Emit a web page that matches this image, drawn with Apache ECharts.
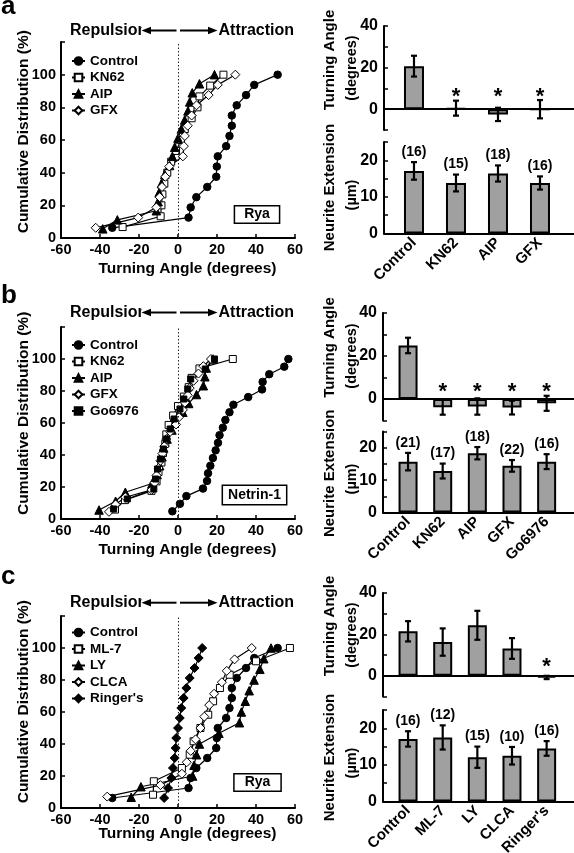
<!DOCTYPE html>
<html><head><meta charset="utf-8">
<script src="https://cdn.jsdelivr.net/npm/echarts@6/dist/echarts.min.js"></script>
<style>html,body{margin:0;padding:0;background:#fff}#c{width:574px;height:853px}</style>
</head><body><div id="c"></div>
<script>
// ================= DATA =================
// cumulative distribution steps (%) by sample size
const cum10 = [7.1,14.3,21.4,28.6,35.7,42.9,50,57.1,64.3,71.4,78.6,85.7,92.9,100];
const cum12 = [8.3,16.7,25,33.3,41.7,50,58.3,66.7,75,83.3,91.7,100];
const cum15 = [6.7,13.3,20,26.7,33.3,40,46.7,53.3,60,66.7,73.3,80,86.7,93.3,100];
const cum16 = [6.25,12.5,18.75,25,31.25,37.5,43.75,50,56.25,62.5,68.75,75,81.25,87.5,93.75,100];
const cum17 = [5.9,11.8,17.6,23.5,29.4,35.3,41.2,47.1,52.9,58.8,64.7,70.6,76.5,82.4,88.2,94.1,100];
const cum18 = [5.6,11.1,16.7,22.2,27.8,33.3,38.9,44.4,50,55.6,61.1,66.7,72.2,77.8,83.3,88.9,94.4,100];
const cum21 = [4.8,9.5,14.3,19,23.8,28.6,33.3,38.1,42.9,47.6,52.4,57.1,61.9,66.7,71.4,76.2,81,85.7,90.5,95.2,100];
const cum22 = [4.5,9.1,13.6,18.2,22.7,27.3,31.8,36.4,40.9,45.5,50,54.5,59.1,63.6,68.2,72.7,77.3,81.8,86.4,90.9,95.5,100];

// turning angles (degrees), sorted
const ryaControl = [-33.7,5.4,6.5,9.4,15.0,19.6,19.9,20.4,24.7,26.4,27.6,27.6,30.1,34.9,39.1,51.1];
const aKN62 = [-28.4,-8.9,-8.5,-8.0,-7.0,-5.5,-3.5,-1.0,1.5,3.5,7.0,10.0,11.0,16.5,23.3];
const aAIP  = [-38.6,-31.1,-11.1,-10.2,-9.7,-8.5,-6.8,-4.3,-2.9,-1.7,0,1.7,3.4,5.1,6.0,7.3,11.0,18.7];
const aGFX  = [-42.2,-20.4,-11.1,-9.4,-8.2,-6.5,-4.5,2.5,3.0,3.5,5.0,7.0,9.5,15.7,20.4,29.4];

const bControl = [-2.9,1.0,4.3,12.8,14.9,15.4,16.6,17.9,19.3,20.5,21.3,23.0,24.3,26.4,28.4,36.0,43.1,43.4,46.8,54.5,56.6];
const bKN62 = [-32.3,-27.2,-13.6,-11.0,-10.0,-8.5,-7.7,-6.5,-6.0,-4.8,-2.5,0,3.0,5.5,7.0,11.0,28.1];
const bAIP  = [-40.5,-32.0,-27.0,-13.3,-10.7,-9.4,-8.2,-7.3,-5.6,-3.1,-1.4,2.5,5.5,9.5,13.0,13.8,14.5,18.0];
const bGFX  = [-35.4,-32.0,-27.0,-13.5,-12.0,-11.0,-10.0,-9.0,-8.0,-7.0,-6.0,-4.0,-1.0,0.5,2.5,3.5,5.0,6.0,8.0,10.5,13.0,16.9];
const bGo   = [-33.0,-26.0,-12.4,-11.5,-10.5,-9.0,-7.5,-6.0,-4.0,-2.0,1.0,3.0,5.0,6.5,14.0,18.7];

const cML7  = [-12.8,-12.4,2.0,6.0,8.0,11.5,15.5,18.0,21.5,26.5,40.0,57.4];
const cLY   = [-24.0,-19.0,7.5,8.2,9.5,11.0,21.0,31.5,32.5,34.5,36.5,39.0,42.0,44.0,47.7];
const cCLCA = [-36.3,-9.0,2.0,4.5,6.5,9.0,11.5,13.5,16.0,18.5,22.5,25.0,29.0,37.8];
const cRinger = [-7.1,-5.1,-3.4,-2.6,-1.7,-1.2,-0.9,0,0.9,1.7,2.9,4.3,6.0,8.5,10.6,12.4];

// bar charts
const catsA = ['Control','KN62','AIP','GFX'];
const turnA = [20.7,0.5,-2.5,0];
const turnErrA = [5.0,3.6,3.2,4.4];
const sigA = [false,true,true,true];
const extA = [17.1,13.8,16.4,13.8];
const extErrA = [2.4,2.3,2.2,1.8];
const nA = [16,15,18,16];

const catsB = ['Control','KN62','AIP','GFX','Go6976'];
const turnB = [24.9,-3.8,-3.5,-4.0,-2.0];
const turnErrB = [3.6,3.5,3.8,3.2,3.5];
const sigB = [false,true,true,true,true];
const extB = [15.7,12.8,18.3,14.4,15.7];
const extErrB = [2.7,2.3,1.9,1.8,2.3];
const nB = [21,17,18,22,16];

const catsC = ['Control','ML-7','LY','CLCA',"Ringer's"];
const turnC = [21.5,16.3,24.4,13.2,-0.8];
const turnErrC = [4.9,6.6,7.0,5.0,0.8];
const sigC = [false,false,false,false,true];
const extC = [17.1,17.5,12.1,12.5,14.5];
const extErrC = [2.1,3.3,2.9,2.4,2.0];
const nC = [16,12,15,10,16];
const starLevel = [8.4,5.6,6.9];

// ================= STYLE =================
const FF = '"Liberation Sans", Arial, Helvetica, sans-serif';
const F = (s) => 'bold ' + s + 'px ' + FF;
const mk = {
  'Control': ['circle',7.5,'#000'],
  'KN62': ['rect',7,'#fff'],
  'AIP': ['triangle',8.5,'#000'],
  'GFX': ['diamond',9,'#fff'],
  'Go6976': ['rect',6,'#000'],
  'ML-7': ['rect',7,'#fff'],
  'LY': ['triangle',8.5,'#000'],
  'CLCA': ['diamond',9,'#fff'],
  "Ringer's": ['diamond',9,'#000']
};

function cum(name, xs, ys, gi, withLine) {
  const m = mk[name];
  const s = {
    type:'line', name, xAxisIndex:gi, yAxisIndex:gi,
    data: xs.map((x,i)=>[x, ys[i]]),
    symbol:m[0], symbolSize:m[1], showSymbol:true,
    itemStyle:{color:m[2], borderColor:'#000', borderWidth:1},
    lineStyle:{color:'#000', width:1.2},
    emphasis:{disabled:true}, animation:false, z:3
  };
  if (withLine) s.markLine = {silent:true, symbol:['none','none'], data:[{xAxis:0}],
    lineStyle:{type:[1.5,2], color:'#222', width:1}, label:{show:false}, animation:false};
  return s;
}

function bars(gi, cats, vals, bw) {
  return {type:'bar', xAxisIndex:gi, yAxisIndex:gi, barWidth:bw, animation:false,
    data: cats.map((c,i)=>[i+1, vals[i]]),
    itemStyle:{color:'#a0a0a0', borderColor:'#000', borderWidth:2}, emphasis:{disabled:true}, z:2};
}

function errs(gi, cats, vals, es, opt) {
  return {type:'custom', xAxisIndex:gi, yAxisIndex:gi, z:5, silent:true, animation:false,
    data: cats.map((c,i)=>[i+1, vals[i], es[i]]),
    renderItem: (params, api) => {
      const i = params.dataIndex;
      const x = api.value(0), m = api.value(1), e = api.value(2);
      const t = api.coord([x, m+e]), b = api.coord([x, m-e]);
      const ls = {stroke:'#000', lineWidth:2.2};
      const ch = [
        {type:'line', shape:{x1:t[0],y1:t[1],x2:b[0],y2:b[1]}, style:ls},
        {type:'line', shape:{x1:t[0]-3,y1:t[1],x2:t[0]+3,y2:t[1]}, style:ls},
        {type:'line', shape:{x1:b[0]-3,y1:b[1],x2:b[0]+3,y2:b[1]}, style:ls}
      ];
      if (opt.n) ch.push({type:'text', x:t[0], y:t[1]-10,
        style:{text:'('+opt.n[i]+')', font:F(14), fill:'#000', align:'center', verticalAlign:'middle', textAlign:'center', textVerticalAlign:'middle'}});
      if (opt.sig && opt.sig[i]) {
        const p = api.coord([x, opt.star]);
        ch.push({type:'text', x:p[0], y:p[1]+5,
          style:{text:'*', font:F(22), fill:'#000', align:'center', verticalAlign:'middle', textAlign:'center', textVerticalAlign:'middle'}});
      }
      return {type:'group', children:ch};
    }};
}

const axLine = {show:true, onZero:false, lineStyle:{color:'#000', width:2}};
const tick = {show:true, inside:true, length:4, lineStyle:{color:'#000', width:1.5}};

function cumAxes(gi) {
  return {
    x: {gridIndex:gi, type:'value', min:-60, max:60, interval:20,
      axisLine:axLine, axisTick:tick, splitLine:{show:false},
      axisLabel:{color:'#000', fontFamily:FF, fontWeight:'bold', fontSize:14.5, margin:4}},
    y: {gridIndex:gi, type:'value', min:0, max:120, interval:20,
      axisLine:axLine, axisTick:tick, splitLine:{show:false},
      axisLabel:{color:'#000', fontFamily:FF, fontWeight:'bold', fontSize:14.5, margin:5,
        formatter:(v)=> v<=100 ? String(v) : ''}}
  };
}
function barAxes(gi, cats, xmin, xmax, kind) {
  const x = {gridIndex:gi, type:'value', min:xmin, max:xmax,
    axisLine:{show:true, onZero:true, lineStyle:{color:'#000', width:2}},
    axisTick:{show:false}, splitLine:{show:false}, axisLabel:{show:false}};
  let y;
  if (kind === 'turn') {
    y = {gridIndex:gi, type:'value', min:-10, max:40, interval:10,
      axisLine:axLine, axisTick:tick, splitLine:{show:false},
      axisLabel:{color:'#000', fontFamily:FF, fontWeight:'bold', fontSize:16, margin:6,
        formatter:(v)=> (v>=0 && v%20===0) ? String(v) : ''}};
  } else {
    x.axisLabel = {show:true, customValues: cats.map((c,i)=>i+1),
      formatter:(v)=> cats[Math.round(v)-1] || '', rotate:45, color:'#000',
      fontFamily:FF, fontWeight:'bold', fontSize:15, margin:7};
    y = {gridIndex:gi, type:'value', min:0, max:25, interval:5,
      axisLine:axLine, axisTick:tick, splitLine:{show:false},
      axisLabel:{color:'#000', fontFamily:FF, fontWeight:'bold', fontSize:16, margin:6,
        formatter:(v)=> (v%10===0) ? String(v) : ''}};
  }
  return {x, y};
}

const grids = [
  {left:61, top:42, width:234, height:196},
  {left:61, top:327, width:234, height:192},
  {left:61, top:616, width:234, height:192},
  {left:384, top:26, width:190, height:104},
  {left:384, top:142, width:190, height:91.5},
  {left:383, top:313, width:191, height:107.5},
  {left:383, top:431.5, width:191, height:81},
  {left:383, top:593, width:191, height:103.5},
  {left:383, top:710, width:191, height:91.5}
].map(g => Object.assign({containLabel:false, outerBoundsMode:'none'}, g));

const axes = [cumAxes(0), cumAxes(1), cumAxes(2),
  barAxes(3, catsA, 0.286, 4.81, 'turn'), barAxes(4, catsA, 0.286, 4.81, 'ext'),
  barAxes(5, catsB, 0.277, 5.79, 'turn'), barAxes(6, catsB, 0.277, 5.79, 'ext'),
  barAxes(7, catsC, 0.277, 5.79, 'turn'), barAxes(8, catsC, 0.277, 5.79, 'ext')];

const series = [
  cum('Control', ryaControl, cum16, 0, true), cum('KN62', aKN62, cum15, 0), cum('AIP', aAIP, cum18, 0), cum('GFX', aGFX, cum16, 0),
  cum('Control', bControl, cum21, 1, true), cum('KN62', bKN62, cum17, 1), cum('AIP', bAIP, cum18, 1), cum('GFX', bGFX, cum22, 1), cum('Go6976', bGo, cum16, 1),
  cum('Control', ryaControl, cum16, 2, true), cum('ML-7', cML7, cum12, 2), cum('LY', cLY, cum15, 2), cum('CLCA', cCLCA, cum10, 2), cum("Ringer's", cRinger, cum16, 2),
  bars(3, catsA, turnA, 20), errs(3, catsA, turnA, turnErrA, {sig:sigA, star:starLevel[0]}),
  bars(4, catsA, extA, 20), errs(4, catsA, extA, extErrA, {n:nA}),
  bars(5, catsB, turnB, 19), errs(5, catsB, turnB, turnErrB, {sig:sigB, star:starLevel[1]}),
  bars(6, catsB, extB, 19), errs(6, catsB, extB, extErrB, {n:nB}),
  bars(7, catsC, turnC, 19), errs(7, catsC, turnC, turnErrC, {sig:sigC, star:starLevel[2]}),
  bars(8, catsC, extC, 19), errs(8, catsC, extC, extErrC, {n:nC})
];

function legend(names, top) {
  return {data:names, orient:'vertical', left:71, top, itemWidth:13, itemHeight:9.5, itemGap:2.5,
    padding:0, selectedMode:false, textStyle:{color:'#000', fontFamily:FF, fontWeight:'bold', fontSize:13.5, lineHeight:13.5}};
}

// ================= GRAPHIC TEXT =================
function T(x, y, text, size, o) {
  o = o || {};
  return Object.assign({type:'text', x, y, silent:true,
    style:Object.assign({text, font:F(size), fill:'#000',
      align:o.align||'left', verticalAlign:'middle', textAlign:o.align||'left', textVerticalAlign:'middle'}, o.style||{})},
    o.rot ? {rotation:Math.PI/2} : {});
}
function header(yc) {
  return [
    T(70, yc, 'Repulsion', 16),
    {type:'rect', silent:true, shape:{x:141.5, y:yc-9, width:10, height:18}, style:{fill:'#fff'}},
    {type:'line', silent:true, shape:{x1:149, y1:yc, x2:176.5, y2:yc}, style:{stroke:'#000', lineWidth:2}},
    {type:'polygon', silent:true, shape:{points:[[141.5,yc],[151,yc-3.8],[151,yc+3.8]]}, style:{fill:'#000'}},
    {type:'line', silent:true, shape:{x1:180, y1:yc, x2:209, y2:yc}, style:{stroke:'#000', lineWidth:2}},
    {type:'polygon', silent:true, shape:{points:[[217.5,yc],[208,yc-3.8],[208,yc+3.8]]}, style:{fill:'#000'}},
    T(218.5, yc, 'Attraction', 16)
  ];
}
function box(x, y, text, pad) {
  return T(x, y, text, 14, {align:'center', style:{borderColor:'#000', borderWidth:1.5, padding:pad, backgroundColor:'#fff'}});
}

const graphic = [].concat(
  T(1, 7, 'a', 26), T(1, 296, 'b', 26), T(1, 577, 'c', 26),
  header(30.5), header(312.5), header(602.7),
  box(257, 214.5, 'Rya', [1,9,1,9]), box(254.5, 495, 'Netrin-1', [2,5,2,5]), box(257.5, 782.5, 'Rya', [1,10,1,10]),
  T(23.5, 131.7, 'Cumulative Distribution (%)', 15.5, {align:'center', rot:true}),
  T(23.5, 413.3, 'Cumulative Distribution (%)', 15.5, {align:'center', rot:true}),
  T(23.5, 701.7, 'Cumulative Distribution (%)', 15.5, {align:'center', rot:true}),
  T(187.5, 269.2, 'Turning Angle (degrees)', 15.5, {align:'center'}),
  T(187.5, 550, 'Turning Angle (degrees)', 15.5, {align:'center'}),
  T(187.5, 833.3, 'Turning Angle (degrees)', 15.5, {align:'center'}),
  T(330, 60, 'Turning Angle', 15, {align:'center', rot:true}),
  T(352, 68, '(degrees)', 14.5, {align:'center', rot:true}),
  T(330, 187.5, 'Neurite Extension', 15, {align:'center', rot:true}),
  T(352, 195, '(\u00b5m)', 14.5, {align:'center', rot:true}),
  T(330, 347.5, 'Turning Angle', 15, {align:'center', rot:true}),
  T(352, 356, '(degrees)', 14.5, {align:'center', rot:true}),
  T(330, 473.3, 'Neurite Extension', 15, {align:'center', rot:true}),
  T(352, 479, '(\u00b5m)', 14.5, {align:'center', rot:true}),
  T(330, 626, 'Turning Angle', 15, {align:'center', rot:true}),
  T(352, 635, '(degrees)', 14.5, {align:'center', rot:true}),
  T(330, 757.5, 'Neurite Extension', 15, {align:'center', rot:true}),
  T(352, 763, '(\u00b5m)', 14.5, {align:'center', rot:true})
);

const chart = echarts.init(document.getElementById('c'), null, {renderer:'canvas'});
chart.setOption({
  animation:false,
  backgroundColor:'#fff',
  textStyle:{fontFamily:FF},
  grid: grids,
  xAxis: axes.map(a=>a.x),
  yAxis: axes.map(a=>a.y),
  legend: [
    legend(['Control','KN62','AIP','GFX'], 54),
    legend(['Control','KN62','AIP','GFX','Go6976'], 338),
    legend(['Control','ML-7','LY','CLCA',"Ringer's"], 625.5)
  ],
  series,
  graphic
});
</script></body></html>
